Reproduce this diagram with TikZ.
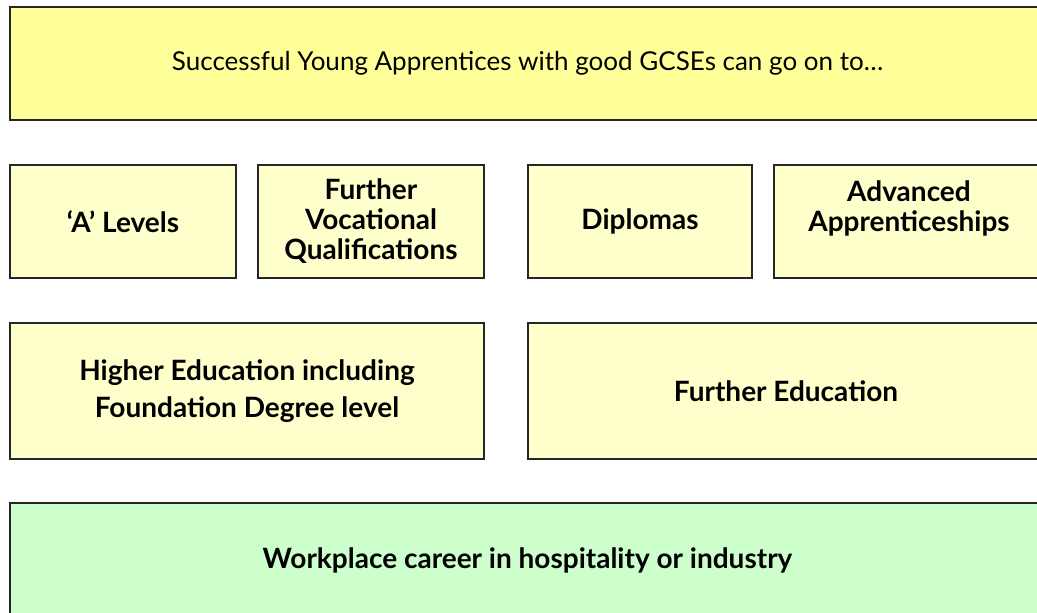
\documentclass[tikz,border=0pt]{standalone}
\usepackage{fontspec}
\setmainfont{Lato}
\definecolor{topyellow}{HTML}{FFFF99}
\definecolor{paleyellow}{HTML}{FFFFCC}
\definecolor{palegreen}{HTML}{CCFFCC}
\tikzset{
	% boxes
	box/.style={draw=black!85, line width=1.1pt, fill=paleyellow, align=center, inner sep=0pt,
		font=\bfseries\fontsize{21}{22.5}\selectfont},
	headbox/.style={box, fill=topyellow, font=\fontsize{19.5}{22}\selectfont},
	careerbox/.style={box, fill=palegreen},
	% size in pixels
	px/.style 2 args={minimum width=#1*0.75pt, minimum height=#2*0.75pt},
}

\begin{document}
\begin{tikzpicture}[x=0.75pt,y=-0.75pt]
	\useasboundingbox (0,0) rectangle (1037,612);
	\clip (0,0) rectangle (1037,612);
	
	\node[headbox, px={1035}{113}] (head) at (527.5,63.5) {Successful Young Apprentices with good GCSEs can go on to…};
	
	\node[box, px={226}{113}] (alevels) at (123,221.5) {\raisebox{-3pt}{‘A’ Levels}};
	\node[box, px={226}{113}] (vocational) at (371,221.5) {Further\\Vocational\\Qualifications};
	\node[box, px={224}{113}] (diplomas) at (640,221.5) {\raisebox{-3pt}{Diplomas}};
	\node[box, px={270}{113}] (advanced) at (909,221.5) {Advanced\\Apprenticeships\\\mbox{}};
	
	\node[box, px={474}{136}] (higher) at (247,391) {Higher Education including\\[5pt]Foundation Degree level};
	\node[box, px={516}{136}] (further) at (786,391) {Further Education};
	
	\node[careerbox, px={1035}{114}] (career) at (527.5,560) {Workplace career in hospitality or industry};
	
\end{tikzpicture}
\end{document}
